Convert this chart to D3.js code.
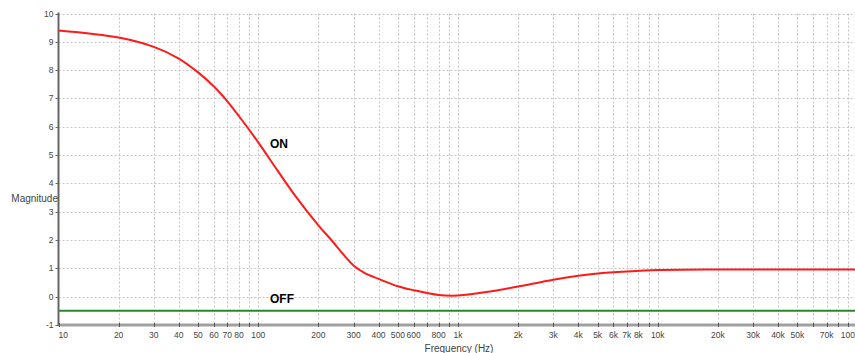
<!DOCTYPE html>
<html><head><meta charset="utf-8">
<script src="https://cdn.jsdelivr.net/npm/d3@7"></script>
<style>body{margin:0;background:#fff}svg{display:block}</style>
</head><body>
<svg id="c" width="855" height="353"></svg>
<script>
const onFreq = [10,20,30,40,50,60,70,80,100,125,150,200,231,270,300,340,400,500,600,800,1000,1500,2000,3000,4000,5000,7000,10000,20000,100000];
const onMag  = [9.40,9.15,8.82,8.41,7.92,7.42,6.90,6.38,5.45,4.45,3.65,2.52,2.02,1.45,1.10,0.84,0.63,0.37,0.23,0.06,0.04,0.20,0.36,0.60,0.74,0.82,0.89,0.94,0.96,0.96];
const offFreq = [10,100000];
const offMag = [-0.5,-0.5];
const yTicks = [-1,0,1,2,3,4,5,6,7,8,9,10];
const xLabelVals = [10,20,30,40,50,60,70,80,100,200,300,400,500,600,800,1000,2000,3000,4000,5000,6000,7000,8000,10000,20000,30000,40000,50000,70000,100000];
const xLabelText = ["10","20","30","40","50","60","70","80","100","200","300","400","500","600","800","1k","2k","3k","4k","5k","6k","7k","8k","10k","20k","30k","40k","50k","70k","100"];

const svg = d3.select("#c");
const x = d3.scaleLog().domain([10,100000]).range([58.5,857.5]);
const y = d3.scaleLinear().domain([-1,10]).range([325,13.5]);
const font = "Arial, 'Liberation Sans', sans-serif";

const gridX = [];
for (let d=10; d<100000; d*=10) for (let m=1;m<=9;m++) gridX.push(d*m);
gridX.push(100000);

const g = svg.append("g");
g.selectAll("line.gx").data(gridX.filter(v=>v>10)).enter().append("line")
  .attr("x1",d=>Math.round(x(d))+0.5).attr("x2",d=>Math.round(x(d))+0.5)
  .attr("y1",y(10)).attr("y2",y(-1))
  .attr("stroke","#c4c4c4").attr("stroke-dasharray","2,2").attr("stroke-width",1);
g.selectAll("line.gy").data(yTicks.filter(v=>v>-1)).enter().append("line")
  .attr("x1",x(10)).attr("x2",857)
  .attr("y1",d=>Math.round(y(d))+0.5).attr("y2",d=>Math.round(y(d))+0.5)
  .attr("stroke","#c4c4c4").attr("stroke-dasharray","2,2").attr("stroke-width",1);

svg.append("line").attr("x1",x(10)).attr("x2",857).attr("y1",y(-1)).attr("y2",y(-1))
  .attr("stroke","#a0a0a0").attr("stroke-width",3);
svg.selectAll("line.xt").data(gridX).enter().append("line")
  .attr("x1",d=>Math.round(x(d))+0.5).attr("x2",d=>Math.round(x(d))+0.5)
  .attr("y1",y(-1)-2).attr("y2",y(-1)+2).attr("stroke","#555");
svg.append("line").attr("x1",x(10)).attr("x2",x(10)).attr("y1",y(10)-1).attr("y2",y(-1)+1)
  .attr("stroke","#666").attr("stroke-width",2);
svg.selectAll("line.yt").data(yTicks).enter().append("line")
  .attr("x1",x(10)-3).attr("x2",x(10)).attr("y1",d=>Math.round(y(d))+0.5).attr("y2",d=>Math.round(y(d))+0.5)
  .attr("stroke","#666");

svg.selectAll("text.yl").data(yTicks).enter().append("text")
  .attr("x",x(10)-5).attr("y",d=>y(d)+3).attr("text-anchor","end")
  .attr("font-family",font).attr("font-size",8.5).attr("fill","#444").text(d=>d);
svg.selectAll("text.xl").data(xLabelVals).enter().append("text")
  .attr("x",(d,i)=> i===xLabelVals.length-1 ? 855 : x(d)).attr("y",338)
  .attr("text-anchor",(d,i)=> i===0 ? "start" : (i===xLabelVals.length-1 ? "end" : "middle"))
  .attr("font-family",font).attr("font-size",8.5).attr("fill","#444")
  .text((d,i)=>xLabelText[i]);

svg.append("text").attr("x",459).attr("y",352).attr("text-anchor","middle")
  .attr("font-family",font).attr("font-size",10).attr("fill","#444").text("Frequency (Hz)");
svg.append("text").attr("x",58).attr("y",202).attr("text-anchor","end")
  .attr("font-family",font).attr("font-size",10).attr("fill","#444").text("Magnitude");

const line = d3.line().x(d=>x(d[0])).y(d=>y(d[1])).curve(d3.curveCatmullRom.alpha(0.5));
svg.append("path").datum(offFreq.map((f,i)=>[f,offMag[i]])).attr("d",line)
  .attr("fill","none").attr("stroke","#2a8a2a").attr("stroke-width",2);
svg.append("path").datum(onFreq.map((f,i)=>[f,onMag[i]])).attr("d",line)
  .attr("fill","none").attr("stroke","#ff1a1a").attr("stroke-width",2);

svg.append("text").attr("x",270).attr("y",148).attr("font-family",font)
  .attr("font-weight","bold").attr("font-size",12).attr("fill","#000").text("ON");
svg.append("text").attr("x",270).attr("y",303).attr("font-family",font)
  .attr("font-weight","bold").attr("font-size",12).attr("fill","#000").text("OFF");
</script>
</body></html>
